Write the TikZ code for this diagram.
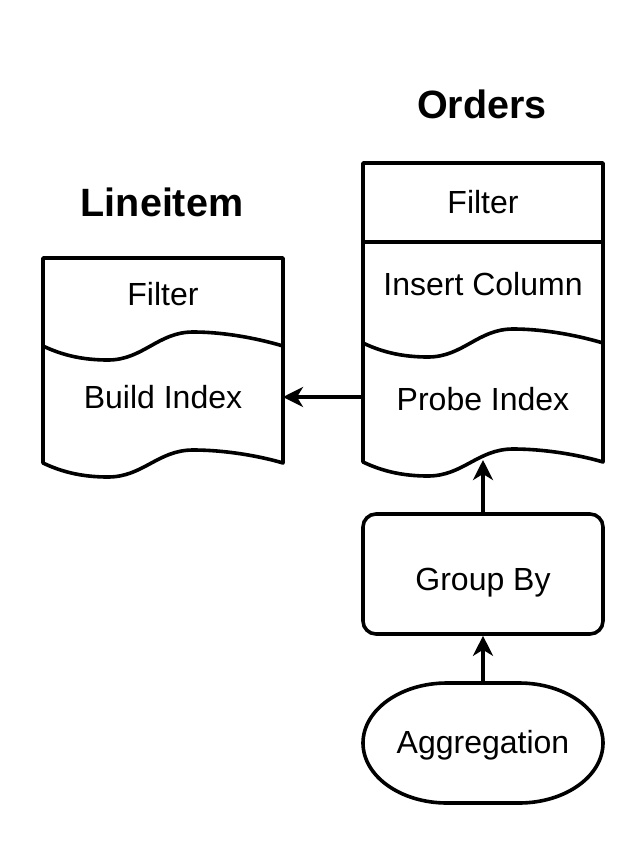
\documentclass[tikz,border=0pt]{standalone}
\usepackage{fontspec}
\setmainfont{Liberation Sans}
\usetikzlibrary{arrows.meta}
\tikzset{
  outline/.style={line width=3.6pt, line join=round, fill=white},
  lbl/.style={anchor=base, inner sep=0pt, font=\fontsize{32}{38}\selectfont},
  ttl/.style={anchor=base, inner sep=0pt, font=\fontsize{39.5}{46}\selectfont\bfseries},
  arr/.style={line width=3.6pt, -{Stealth[length=20pt, width=20pt, inset=6pt]}},
}
\begin{document}
\begin{tikzpicture}[x=1pt, y=-1pt]
\useasboundingbox[fill=white] (0,0) rectangle (644,844);

% ---------- Lineitem column ----------
\draw[outline] (43,258) -- (283,258) -- (283,463)
  .. controls (263,457) and (228,450) .. (193,450)
  .. controls (158,450) and (143,477) .. (108,477)
  .. controls (82,477) and (62,472) .. (43,463) -- cycle;
\draw[line width=3.6pt] (43,346)
  .. controls (62,355) and (82,360) .. (108,360)
  .. controls (143,360) and (158,332) .. (193,332)
  .. controls (228,332) and (263,340) .. (283,346);

% ---------- Orders column ----------
\draw[outline] (363,163) -- (603,163) -- (603,462)
  .. controls (583,456) and (548,449) .. (513,449)
  .. controls (478,449) and (463,476) .. (428,476)
  .. controls (402,476) and (382,471) .. (363,462) -- cycle;
\draw[line width=3.6pt] (363,242) -- (603,242);
\draw[line width=3.6pt] (363,343)
  .. controls (382,352) and (402,357) .. (428,357)
  .. controls (463,357) and (478,329) .. (513,329)
  .. controls (548,329) and (583,337) .. (603,343);

% ---------- Group By / Aggregation ----------
\node[draw, line width=3.6pt, rounded corners=13pt, minimum width=240pt, minimum height=120pt, inner sep=0pt] (groupby) at (483,574) {};
\draw[outline] (447,683) -- (519,683)
  arc[start angle=90, end angle=-90, x radius=84pt, y radius=60pt]
  -- (447,803)
  arc[start angle=270, end angle=90, x radius=84pt, y radius=60pt] -- cycle;
\node[inner sep=0pt, minimum width=240pt, minimum height=120pt] (aggr) at (483,743) {};

% ---------- texts ----------
\node[ttl] (tOrders) at (482,118) {Orders};
\node[ttl] (tLine) at (162,216) {Lineitem};
\node[lbl] (lFilter) at (163,305) {Filter};
\node[lbl] (lBuild) at (163,408) {Build Index};
\node[lbl] (rFilter) at (483,213) {Filter};
\node[lbl] (rInsert) at (483,295) {Insert Column};
\node[lbl] (rProbe) at (483,410) {Probe Index};
\node[lbl] (tGroup) at (483,590) {Group By};
\node[lbl] (tAggr) at (483,753) {Aggregation};

% ---------- connector anchors ----------
\coordinate (probeW) at (363,397);
\coordinate (buildE) at (283,397);
\coordinate (probeS) at (483,460);

\draw[arr] (probeW) -- (buildE);
\draw[arr] (groupby.north) -- (probeS);
\draw[arr] (aggr.north) -- (groupby.south);
\end{tikzpicture}
\end{document}
